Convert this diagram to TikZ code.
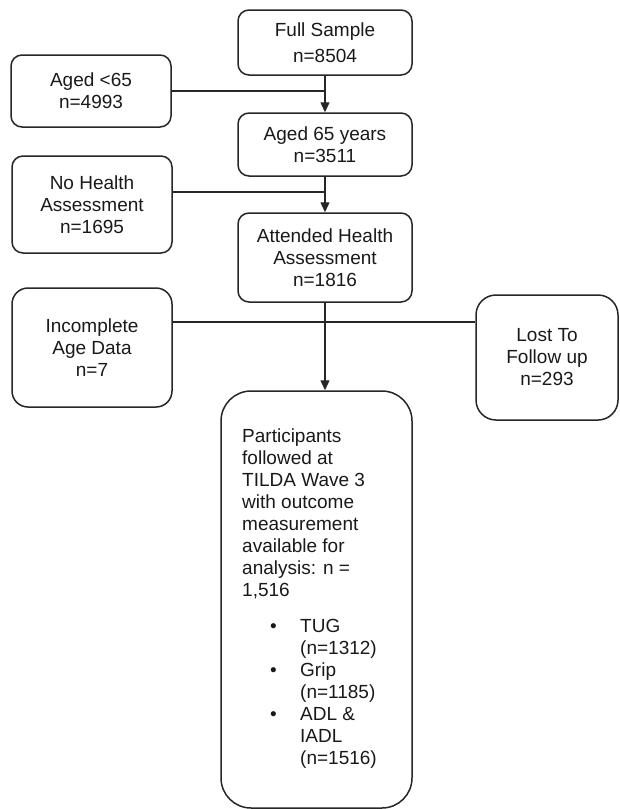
\documentclass[tikz,border=0pt]{standalone}
\usepackage{fontspec}
\setmainfont{Liberation Sans}
\usetikzlibrary{arrows.meta,calc}
\begin{document}
\begin{tikzpicture}[x=1pt,y=-1pt,
  box/.style={draw=black!85, line width=1.5pt, rounded corners=11pt, align=center,
    inner sep=0pt, font=\fontsize{19}{22}\selectfont, text=black!90},
  link/.style={draw=black!85, line width=1.3pt},
  arr/.style={link, -{Triangle[length=10pt,width=9pt]}}]
\useasboundingbox (0,0) rectangle (619,809);

\node[box, minimum width=174pt, minimum height=65pt, font=\fontsize{19}{26}\selectfont] (full) at (325,42.5) {Full Sample\\n=8504};
\node[box, minimum width=160pt, minimum height=72pt] (lt65) at (91,91) {Aged <65\\n=4993};
\node[box, minimum width=174pt, minimum height=63pt] (a65) at (325,144.5) {Aged 65 years\\n=3511};
\node[box, minimum width=160pt, minimum height=97pt] (nohealth) at (92,204.5) {No Health\\Assessment\\n=1695};
\node[box, minimum width=174pt, minimum height=89pt] (att) at (325,257.5) {Attended Health\\Assessment\\n=1816};
\node[box, minimum width=160pt, minimum height=119pt, rounded corners=16pt] (incomplete) at (92,347.5) {Incomplete\\Age Data\\n=7};
\node[box, minimum width=142pt, minimum height=125pt, rounded corners=20pt] (lost) at (547,357.5) {Lost To\\Follow up\\n=293};
\node[box, minimum width=191pt, minimum height=417pt, rounded corners=30pt] (final) at (316.5,599.5) {};
\node[anchor=north west, align=left, inner sep=0pt, font=\fontsize{19}{22}\selectfont, text=black!90] (finaltext) at (242,429) {%
Participants\\
followed at\\
TILDA Wave 3\\
with outcome\\
measurement\\
available for\\
analysis: n =\\
1,516\\[14pt]
\hspace*{28pt}\makebox[30pt][l]{•}TUG\\
\hspace*{58pt}(n=1312)\\
\hspace*{28pt}\makebox[30pt][l]{•}Grip\\
\hspace*{58pt}(n=1185)\\
\hspace*{28pt}\makebox[30pt][l]{•}ADL \&\\
\hspace*{58pt}IADL\\
\hspace*{58pt}(n=1516)};

\coordinate (j1) at (325,91);
\coordinate (j2) at (325,192);
\coordinate (j3) at (325,322);

\draw[arr] (full.south) -- (a65.north);
\draw[link] (lt65.east) -- (j1);
\draw[arr] (a65.south) -- (att.north);
\draw[link] (nohealth.east |- j2) -- (j2);
\draw[arr] (att.south) -- (att.south |- final.north);
\draw[link] (incomplete.east |- j3) -- (lost.west |- j3);
\end{tikzpicture}
\end{document}
